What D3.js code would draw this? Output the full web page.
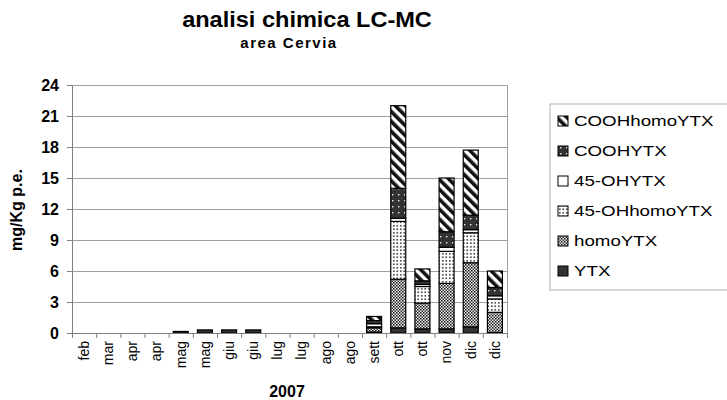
<!DOCTYPE html>
<html>
<head>
<meta charset="utf-8">
<script src="https://cdn.jsdelivr.net/npm/d3@7"></script>
<style>
  html, body { margin: 0; padding: 0; background: #fff; }
  svg { display: block; font-family: "Liberation Sans", Arial, sans-serif; }
</style>
</head>
<body>
<svg id="chart" width="727" height="400"></svg>
<script>
// Sampling months (2007), two samplings for most months
const months = ["feb","mar","apr","apr","mag","mag","giu","giu","lug","lug","ago","ago","sett","ott","ott","nov","dic","dic"];

// Toxin concentrations, mg/Kg p.e., stacked bottom to top
const YTX          = [0,0,0,0,0.15,0.3,0.3,0.3,0,0,0,0,0.1,0.5,0.4,0.4,0.6,0.05];
const homoYTX      = [0,0,0,0,0,0,0,0,0,0,0,0,0.4,4.7,2.5,4.4,6.2,1.95];
const OH45homoYTX  = [0,0,0,0,0,0,0,0,0,0,0,0,0.1,5.6,1.6,3.1,2.9,1.3];
const OH45YTX      = [0,0,0,0,0,0,0,0,0,0,0,0,0.3,0.3,0.2,0.4,0.3,0.3];
const COOHYTX      = [0,0,0,0,0,0,0,0,0,0,0,0,0.3,2.9,0.35,1.5,1.4,0.8];
const COOHhomoYTX  = [0,0,0,0,0,0,0,0,0,0,0,0,0.4,8.0,1.15,5.2,6.3,1.6];

const seriesNames = ["YTX","homoYTX","45-OHhomoYTX","45-OHYTX","COOHYTX","COOHhomoYTX"];
const seriesData  = [YTX, homoYTX, OH45homoYTX, OH45YTX, COOHYTX, COOHhomoYTX];
const yTicks = [0,3,6,9,12,15,18,21,24];

const svg = d3.select("#chart");
const plot = {left: 72, right: 507, top: 85, bottom: 333};

// Fill patterns for each series
const defs = svg.append("defs");
function pat(id, w, h, build, transform) {
  const p = defs.append("pattern").attr("id", id)
    .attr("patternUnits", "userSpaceOnUse").attr("width", w).attr("height", h);
  if (transform) p.attr("patternTransform", transform);
  build(p);
}
pat("p-homo", 3, 3, p => {
  p.append("rect").attr("width", 3).attr("height", 3).attr("fill", "#eee");
  p.append("rect").attr("width", 1.5).attr("height", 1.5).attr("fill", "#111");
  p.append("rect").attr("x", 1.5).attr("y", 1.5).attr("width", 1.5).attr("height", 1.5).attr("fill", "#333");
});
pat("p-ohhomo", 3.5, 3.5, p => {
  p.append("rect").attr("width", 3.5).attr("height", 3.5).attr("fill", "#fff");
  p.append("rect").attr("x", 1).attr("y", 1).attr("width", 1.6).attr("height", 1.6).attr("fill", "#333");
});
pat("p-cooh", 6, 6, p => {
  p.append("rect").attr("width", 6).attr("height", 6).attr("fill", "#333");
  p.append("rect").attr("x", 2).attr("y", 2).attr("width", 1.4).attr("height", 1.4).attr("fill", "#eee");
});
pat("p-coohhomo", 7, 7, p => {
  p.append("rect").attr("width", 7).attr("height", 7).attr("fill", "#fff");
  p.append("rect").attr("width", 3.6).attr("height", 7).attr("fill", "#111");
}, "rotate(-45)");

const fills = {
  "YTX": "#333",
  "homoYTX": "url(#p-homo)",
  "45-OHhomoYTX": "url(#p-ohhomo)",
  "45-OHYTX": "#fff",
  "COOHYTX": "url(#p-cooh)",
  "COOHhomoYTX": "url(#p-coohhomo)"
};

// Scales
const x = d3.scaleBand().domain(d3.range(months.length))
  .range([plot.left, plot.right]).paddingInner(0.38).paddingOuter(0.19);
const xEdge = d3.scaleLinear().domain([0, months.length]).range([plot.left, plot.right]);
const y = d3.scaleLinear().domain([0, 24]).range([plot.bottom, plot.top]);

// Gridlines
svg.append("g").selectAll("line").data(yTicks.filter(v => v > 0)).join("line")
  .attr("x1", plot.left).attr("x2", plot.right)
  .attr("y1", d => y(d)).attr("y2", d => y(d))
  .attr("stroke", "#a0a0a0").attr("stroke-width", 1).attr("shape-rendering", "crispEdges");
svg.append("line").attr("x1", plot.right).attr("x2", plot.right)
  .attr("y1", plot.top).attr("y2", plot.bottom)
  .attr("stroke", "#a0a0a0").attr("shape-rendering", "crispEdges");

// Stacked bars
const rows = months.map((m, i) => {
  const r = {i};
  seriesNames.forEach((s, k) => r[s] = seriesData[k][i]);
  return r;
});
const stacked = d3.stack().keys(seriesNames)(rows);
svg.append("g").selectAll("g").data(stacked).join("g")
  .attr("fill", d => fills[d.key])
  .selectAll("rect").data(d => d.filter(s => s[1] - s[0] > 0)).join("rect")
  .attr("x", d => x(d.data.i)).attr("width", x.bandwidth())
  .attr("y", d => y(d[1])).attr("height", d => y(d[0]) - y(d[1]))
  .attr("stroke", "#000").attr("stroke-width", 1.2);

// Y axis
const yAxis = svg.append("g").attr("transform", `translate(${plot.left},0)`)
  .call(d3.axisLeft(y).tickValues(yTicks).tickSize(5).tickPadding(8).tickFormat(d3.format("d")));
yAxis.select(".domain").attr("stroke", "#808080");
yAxis.selectAll(".tick line").attr("stroke", "#808080");
yAxis.selectAll("text").attr("font-size", 16).attr("font-weight", "bold").attr("fill", "#000")
  .attr("font-family", "Liberation Sans, Arial, sans-serif");

// X axis: tick marks at category edges
const xTicks = svg.append("g").attr("transform", `translate(0,${plot.bottom})`)
  .call(d3.axisBottom(xEdge).tickValues(d3.range(months.length + 1)).tickSize(5).tickFormat(""));
xTicks.select(".domain").attr("stroke", "#808080");
xTicks.selectAll(".tick line").attr("stroke", "#808080");

// X axis: month labels, rotated
const xLab = svg.append("g").attr("transform", `translate(0,${plot.bottom})`)
  .call(d3.axisBottom(x).tickSize(0).tickFormat(i => months[i]));
xLab.select(".domain").remove();
xLab.selectAll("text")
  .attr("font-size", 14).attr("fill", "#000")
  .attr("font-family", "Liberation Sans, Arial, sans-serif")
  .attr("text-anchor", "end").attr("dy", "0.35em").attr("dx", 0).attr("y", 0)
  .attr("transform", "translate(0,8) rotate(-90)");

// Titles
svg.append("text").attr("transform", "translate(307,27) scale(1.07,1)").attr("text-anchor", "middle")
  .attr("font-size", 22).attr("font-weight", "bold").text("analisi chimica LC-MC");
svg.append("text").attr("x", 289).attr("y", 48).attr("text-anchor", "middle")
  .attr("font-size", 15).attr("font-weight", "bold").attr("letter-spacing", 1.5).text("area Cervia");
svg.append("text").attr("x", 287).attr("y", 397).attr("text-anchor", "middle")
  .attr("font-size", 16).attr("font-weight", "bold").text("2007");
svg.append("text").attr("transform", "translate(22,210) rotate(-90)").attr("text-anchor", "middle")
  .attr("font-size", 16).attr("font-weight", "bold").text("mg/Kg p.e.");

// Legend (top series first)
const legend = svg.append("g");
legend.append("rect").attr("x", 550).attr("y", 104).attr("width", 200).attr("height", 186)
  .attr("fill", "none").attr("stroke", "#b0b0b0");
const legendOrder = seriesNames.slice().reverse();
const li = legend.selectAll("g.item").data(legendOrder).join("g").attr("class", "item")
  .attr("transform", (d, i) => `translate(558,${121 + i * 30})`);
li.append("rect").attr("x", 0).attr("y", -5).attr("width", 10).attr("height", 10)
  .attr("fill", d => fills[d]).attr("stroke", "#000").attr("stroke-width", 1);
li.append("text").attr("transform", "translate(16,0) scale(1.25,1)").attr("dy", "0.35em")
  .attr("font-size", 15).text(d => d);
</script>
</body>
</html>
